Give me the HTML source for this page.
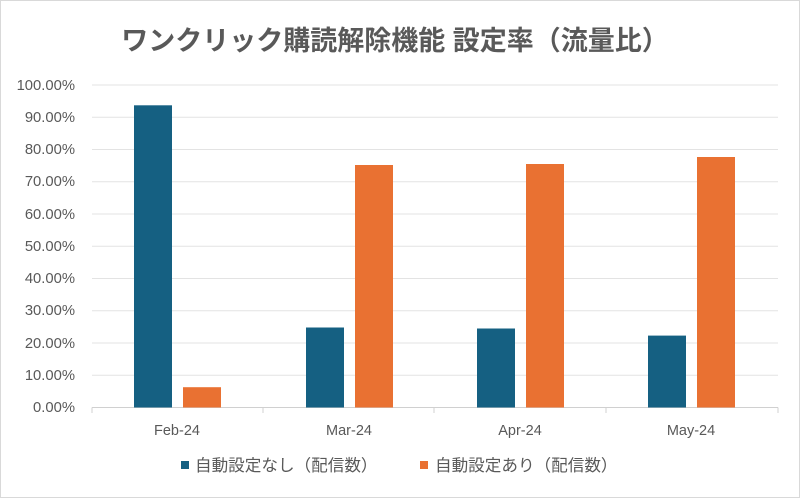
<!DOCTYPE html>
<html><head><meta charset="utf-8"><style>
body{margin:0;background:#fff;}
</style></head><body>
<svg width="800" height="498" xmlns="http://www.w3.org/2000/svg" font-family="'Liberation Sans','Noto Sans CJK JP',sans-serif">
<rect x="0.5" y="0.5" width="799" height="497" fill="#fff" stroke="#d9d9d9"/>
<text x="395" y="50" text-anchor="middle" font-size="27" font-weight="bold" fill="#595959">ワンクリック購読解除機能 設定率（流量比）</text>
<g stroke="#e3e3e3" stroke-width="1">
<line x1="92" x2="778" y1="85" y2="85"/><line x1="92" x2="778" y1="117.2" y2="117.2"/>
<line x1="92" x2="778" y1="149.5" y2="149.5"/><line x1="92" x2="778" y1="181.7" y2="181.7"/>
<line x1="92" x2="778" y1="214" y2="214"/><line x1="92" x2="778" y1="246.2" y2="246.2"/>
<line x1="92" x2="778" y1="278.5" y2="278.5"/><line x1="92" x2="778" y1="310.7" y2="310.7"/>
<line x1="92" x2="778" y1="343" y2="343"/><line x1="92" x2="778" y1="375.2" y2="375.2"/>
</g>
<g stroke="#d0d0d0"><line x1="92" x2="778" y1="407.5" y2="407.5"/>
<line x1="92" x2="92" y1="407.5" y2="413"/><line x1="263" x2="263" y1="407.5" y2="413"/><line x1="434" x2="434" y1="407.5" y2="413"/><line x1="606" x2="606" y1="407.5" y2="413"/><line x1="778" x2="778" y1="407.5" y2="413"/></g>
<g font-size="14.8" fill="#595959" text-anchor="end">
<text x="75" y="90">100.00%</text><text x="75" y="122">90.00%</text><text x="75" y="154">80.00%</text><text x="75" y="186">70.00%</text><text x="75" y="219">60.00%</text><text x="75" y="251">50.00%</text><text x="75" y="283">40.00%</text><text x="75" y="315">30.00%</text><text x="75" y="348">20.00%</text><text x="75" y="380">10.00%</text><text x="75" y="412">0.00%</text>
</g>
<g font-size="14.5" fill="#595959" text-anchor="middle">
<text x="177" y="435">Feb-24</text><text x="349" y="435">Mar-24</text><text x="520" y="435">Apr-24</text><text x="691" y="435">May-24</text>
</g>
<g fill="#156082">
<rect x="134" y="105.3" width="38" height="302.2"/>
<rect x="306" y="327.5" width="38" height="80"/>
<rect x="477" y="328.5" width="38" height="79"/>
<rect x="648" y="335.6" width="38" height="71.9"/>
</g>
<g fill="#e97132">
<rect x="183" y="387.2" width="38" height="20.3"/>
<rect x="355" y="165" width="38" height="242.5"/>
<rect x="526" y="164" width="38" height="243.5"/>
<rect x="697" y="157" width="38" height="250.5"/>
</g>
<rect x="181" y="461" width="8" height="8" fill="#156082"/>
<text x="195" y="471" font-size="16.6" fill="#595959">自動設定なし（配信数）</text>
<rect x="420" y="461" width="8" height="8" fill="#e97132"/>
<text x="435" y="471" font-size="16.6" fill="#595959">自動設定あり（配信数）</text>
</svg>
</body></html>
